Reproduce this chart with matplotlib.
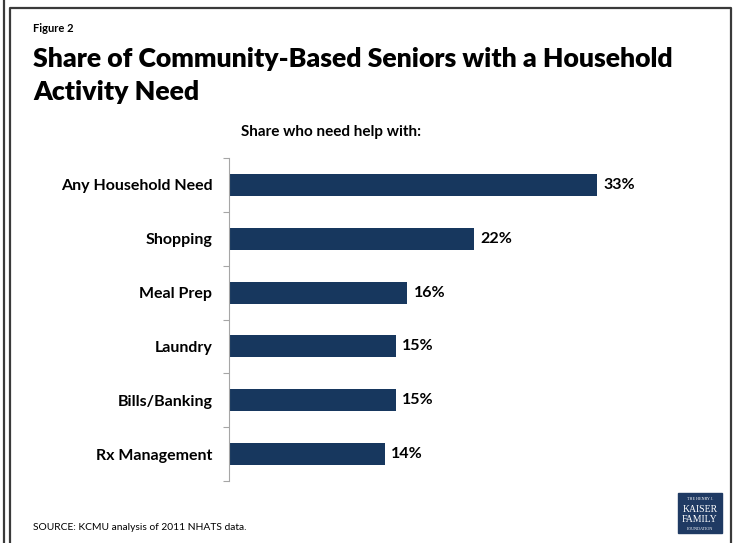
import matplotlib
matplotlib.use('agg')
import matplotlib.pyplot as plt
from matplotlib.patches import Rectangle
from matplotlib.lines import Line2D

# Data
categories = ["Any Household Need", "Shopping", "Meal Prep", "Laundry", "Bills/Banking", "Rx Management"]
shares = [33, 22, 16, 15, 15, 14]

plt.rcParams['font.family'] = ['Lato', 'DejaVu Sans']

W, H = 736, 543
fig = plt.figure(figsize=(W / 100, H / 100), dpi=100)

# Slide frame
fig.add_artist(Line2D([4 / W, 4 / W], [0, 1], color="#3a3a3a", lw=1.6))
fig.add_artist(Line2D([10 / W, 10 / W, 731 / W, 731 / W], [0, 1 - 8 / H, 1 - 8 / H, 0],
                      color="#3a3a3a", lw=1.6))

# Titles
fig.text(33 / W, 1 - 29 / H, "Figure 2", fontsize=8, fontweight="bold", va="center")
fig.text(33 / W, 1 - 59 / H, "Share of Community-Based Seniors with a Household",
         fontsize=19.2, fontweight="heavy", va="center")
fig.text(33 / W, 1 - 92 / H, "Activity Need", fontsize=19.2, fontweight="heavy", va="center")
fig.text(331 / W, 1 - 132 / H, "Share who need help with:", fontsize=11,
         fontweight="bold", ha="center", va="center")

# Bars
ax = fig.add_axes([229 / W, 1 - 481 / H, 446 / W, 323 / H])
ypos = list(range(len(categories)))
ax.barh(ypos, shares, height=0.41, color="#17375e")
for y, v in zip(ypos, shares):
    ax.text(v + 0.55, y, f"{v}%", va="center", ha="left", fontsize=11.5, fontweight="bold")

ax.set_xlim(0, 40)
ax.set_ylim(len(categories) - 0.5, -0.5)
ax.set_yticks(ypos, categories, fontsize=11.5, fontweight="bold")
ax.tick_params(axis="y", which="major", length=0, pad=12)
ax.set_yticks([i - 0.5 for i in range(len(categories) + 1)], minor=True)
ax.tick_params(axis="y", which="minor", length=4, color="#a6a6a6", width=0.8)
ax.set_xticks([])
for s in ["top", "right", "bottom"]:
    ax.spines[s].set_visible(False)
ax.spines["left"].set_color("#a6a6a6")
ax.spines["left"].set_linewidth(0.8)

# Source
fig.text(33 / W, 1 - 528 / H, "SOURCE: KCMU analysis of 2011 NHATS data.", fontsize=7.4, va="center")

# Logo
fig.add_artist(Rectangle((678 / W, 1 - 533 / H), 44 / W, 40 / H, color="#1f3a63"))
fig.text(700 / W, 1 - 499 / H, "THE HENRY J.", fontsize=3, color="white", ha="center",
         va="center", family="Liberation Serif")
fig.text(700 / W, 1 - 510 / H, "KAISER", fontsize=7, color="white", ha="center",
         va="center", family="Liberation Serif")
fig.text(700 / W, 1 - 520 / H, "FAMILY", fontsize=7, color="white", ha="center",
         va="center", family="Liberation Serif")
fig.text(700 / W, 1 - 529 / H, "FOUNDATION", fontsize=3, color="white", ha="center",
         va="center", family="Liberation Serif")

fig.savefig("out.png", dpi=100)
